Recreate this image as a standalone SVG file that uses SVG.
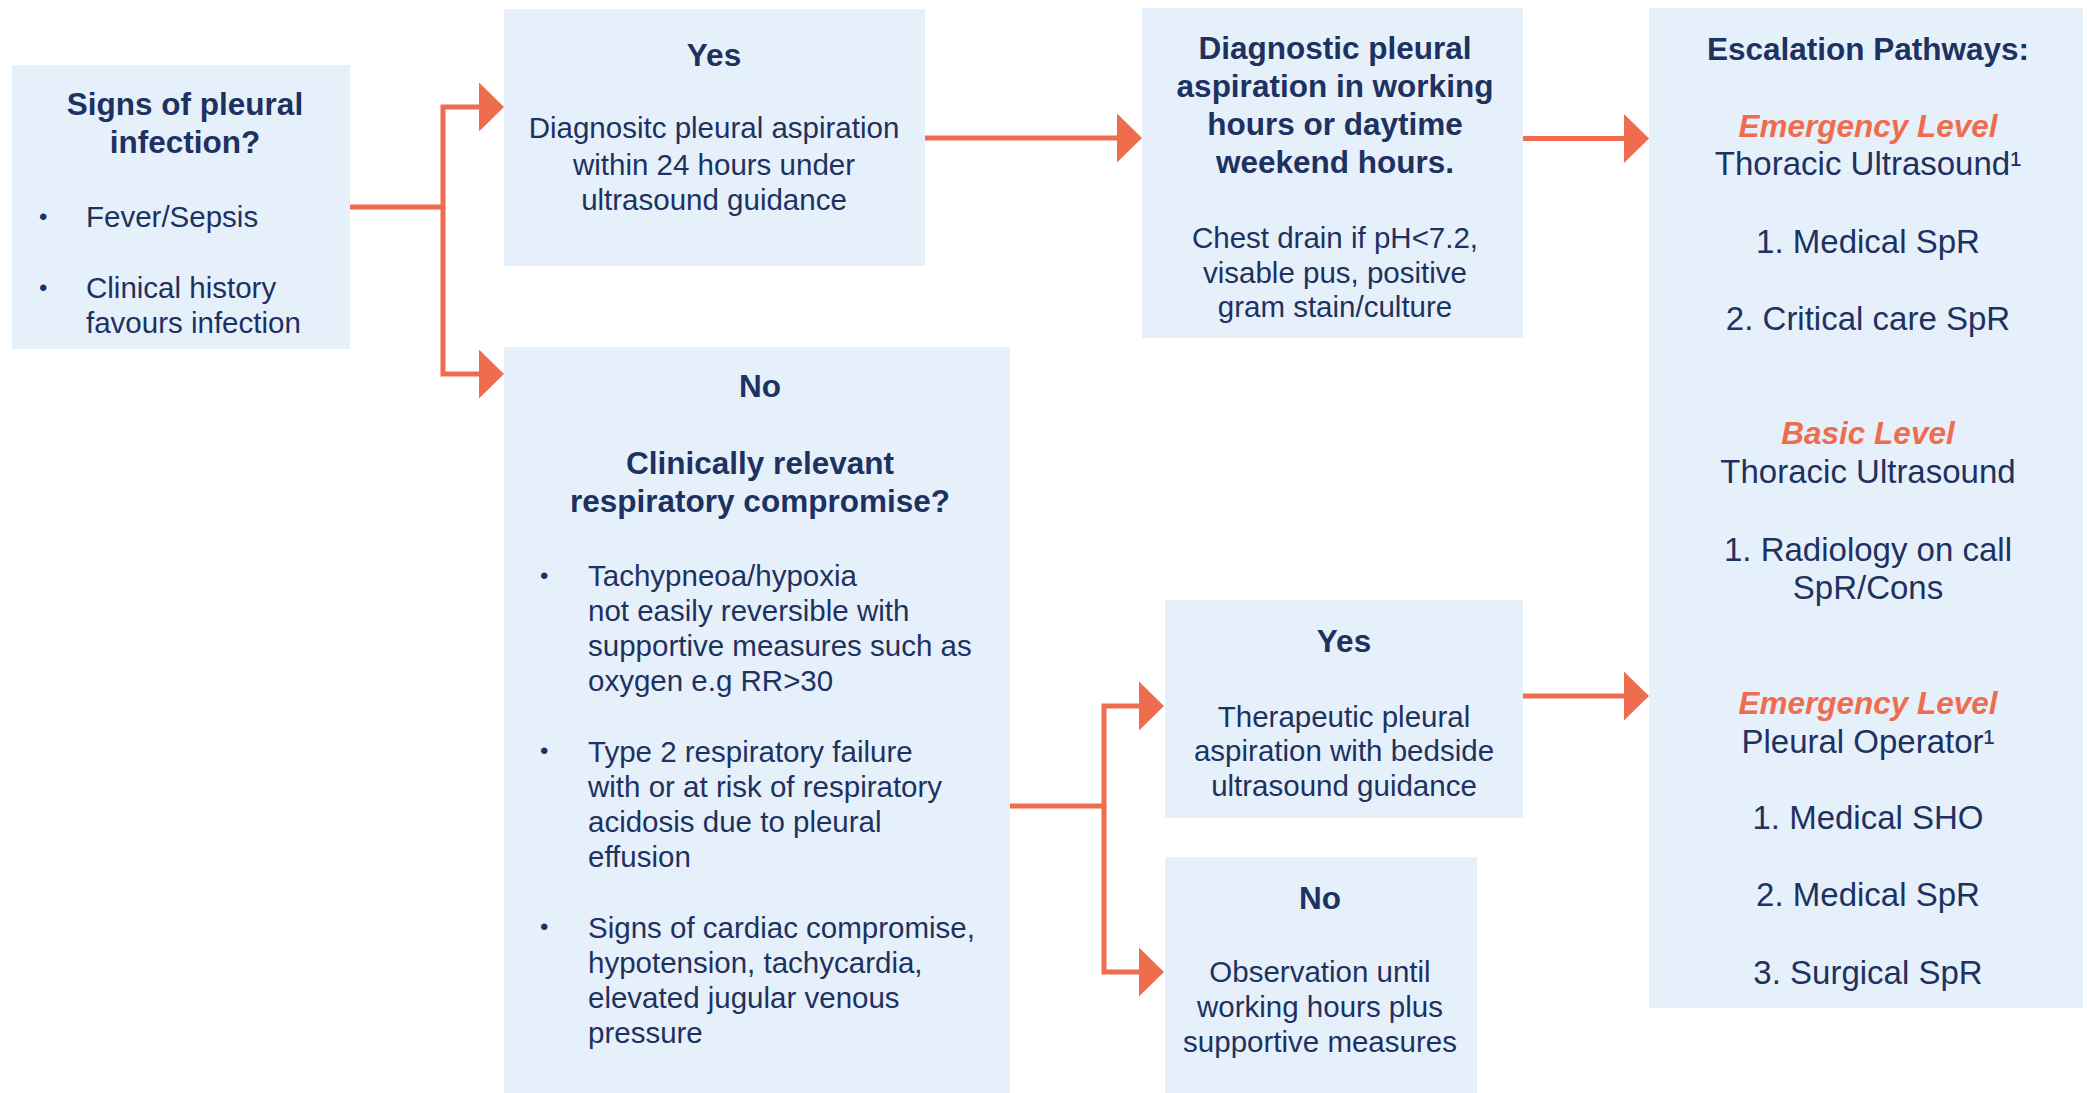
<svg xmlns="http://www.w3.org/2000/svg" width="2087" height="1093" viewBox="0 0 2087 1093">
<style>
.box{fill:#E6F0FB}
.t{font-family:"Liberation Sans",Arial,sans-serif;fill:#1D3260}
.c{text-anchor:middle}
.b{font-weight:bold;font-size:31.5px}
.r{font-size:29.5px}
.e{font-size:33px}
.o{font-weight:bold;font-style:italic;font-size:31.5px;fill:#EF6D4F}
.bul{font-size:24px}
.conn{fill:none;stroke:#EF6D4F;stroke-width:5;stroke-linejoin:miter}
</style>
<defs>
<marker id="ah" markerUnits="userSpaceOnUse" markerWidth="26" markerHeight="50" refX="0" refY="24.5" orient="auto">
<path d="M0,0 L25,24.5 L0,49 Z" fill="#EF6D4F"/>
</marker>
</defs>
<rect width="2087" height="1093" fill="#FFFFFF"/>

<g id="connectors">
<path class="conn" d="M350,207 H443 V107 H479" marker-end="url(#ah)"/>
<path class="conn" d="M443,207 V374 H479" marker-end="url(#ah)"/>
<path class="conn" d="M925,138 H1117" marker-end="url(#ah)"/>
<path class="conn" d="M1523,138.5 H1624" marker-end="url(#ah)"/>
<path class="conn" d="M1010,806 H1104 V706 H1139" marker-end="url(#ah)"/>
<path class="conn" d="M1104,806 V972 H1139" marker-end="url(#ah)"/>
<path class="conn" d="M1523,696 H1624" marker-end="url(#ah)"/>
</g>

<g id="node-signs">
<rect class="box" x="12" y="65" width="338" height="284"/>
<text class="t b c" x="185" y="115">Signs of pleural</text>
<text class="t b c" x="185" y="153">infection?</text>
<text class="t bul" x="39" y="225">•</text>
<text class="t r" x="86" y="227">Fever/Sepsis</text>
<text class="t bul" x="39" y="296">•</text>
<text class="t r" x="86" y="298">Clinical history</text>
<text class="t r" x="86" y="333">favours infection</text>
</g>

<g id="node-yes1">
<rect class="box" x="504" y="9" width="421" height="257"/>
<text class="t b c" x="714" y="66">Yes</text>
<text class="t r c" x="714" y="138">Diagnositc pleural aspiration</text>
<text class="t r c" x="714" y="175">within 24 hours under</text>
<text class="t r c" x="714" y="210">ultrasound guidance</text>
</g>

<g id="node-diagnostic">
<rect class="box" x="1142" y="8" width="381" height="330"/>
<text class="t b c" x="1335" y="59">Diagnostic pleural</text>
<text class="t b c" x="1335" y="97">aspiration in working</text>
<text class="t b c" x="1335" y="135">hours or daytime</text>
<text class="t b c" x="1335" y="173">weekend hours.</text>
<text class="t r c" x="1335" y="248">Chest drain if pH&lt;7.2,</text>
<text class="t r c" x="1335" y="283">visable pus, positive</text>
<text class="t r c" x="1335" y="317">gram stain/culture</text>
</g>

<g id="node-escalation">
<rect class="box" x="1649" y="8" width="434" height="1000"/>
<text class="t b c" x="1868" y="60">Escalation Pathways:</text>
<text class="t o c" x="1868" y="137">Emergency Level</text>
<text class="t e c" x="1868" y="175">Thoracic Ultrasound¹</text>
<text class="t e c" x="1868" y="253">1. Medical SpR</text>
<text class="t e c" x="1868" y="330">2. Critical care SpR</text>
<text class="t o c" x="1868" y="444">Basic Level</text>
<text class="t e c" x="1868" y="483">Thoracic Ultrasound</text>
<text class="t e c" x="1868" y="561">1. Radiology on call</text>
<text class="t e c" x="1868" y="599">SpR/Cons</text>
<text class="t o c" x="1868" y="714">Emergency Level</text>
<text class="t e c" x="1868" y="753">Pleural Operator¹</text>
<text class="t e c" x="1868" y="829">1. Medical SHO</text>
<text class="t e c" x="1868" y="906">2. Medical SpR</text>
<text class="t e c" x="1868" y="984">3. Surgical SpR</text>
</g>

<g id="node-no1">
<rect class="box" x="504" y="347" width="506" height="746"/>
<text class="t b c" x="760" y="397">No</text>
<text class="t b c" x="760" y="474">Clinically relevant</text>
<text class="t b c" x="760" y="512">respiratory compromise?</text>
<text class="t bul" x="540" y="584">•</text>
<text class="t r" x="588" y="586">Tachypneoa/hypoxia</text>
<text class="t r" x="588" y="621">not easily reversible with</text>
<text class="t r" x="588" y="656">supportive measures such as</text>
<text class="t r" x="588" y="691">oxygen e.g RR&gt;30</text>
<text class="t bul" x="540" y="759">•</text>
<text class="t r" x="588" y="762">Type 2 respiratory failure</text>
<text class="t r" x="588" y="797">with or at risk of respiratory</text>
<text class="t r" x="588" y="832">acidosis due to pleural</text>
<text class="t r" x="588" y="867">effusion</text>
<text class="t bul" x="540" y="935">•</text>
<text class="t r" x="588" y="938">Signs of cardiac compromise,</text>
<text class="t r" x="588" y="973">hypotension, tachycardia,</text>
<text class="t r" x="588" y="1008">elevated jugular venous</text>
<text class="t r" x="588" y="1043">pressure</text>
</g>

<g id="node-yes2">
<rect class="box" x="1165" y="600" width="358" height="218"/>
<text class="t b c" x="1344" y="652">Yes</text>
<text class="t r c" x="1344" y="727">Therapeutic pleural</text>
<text class="t r c" x="1344" y="761">aspiration with bedside</text>
<text class="t r c" x="1344" y="796">ultrasound guidance</text>
</g>

<g id="node-no2">
<rect class="box" x="1165" y="857" width="312" height="236"/>
<text class="t b c" x="1320" y="909">No</text>
<text class="t r c" x="1320" y="982">Observation until</text>
<text class="t r c" x="1320" y="1017">working hours plus</text>
<text class="t r c" x="1320" y="1052">supportive measures</text>
</g>
</svg>
